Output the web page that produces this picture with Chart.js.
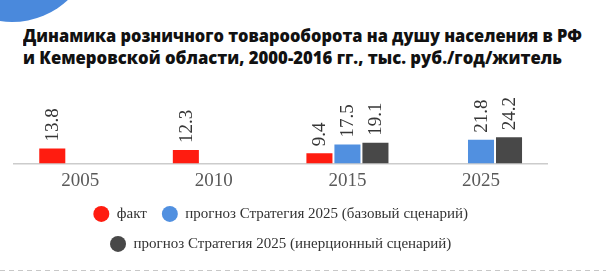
<!DOCTYPE html>
<html>
<head>
<meta charset="utf-8">
<script src="https://cdn.jsdelivr.net/npm/chart.js@4.4.1/dist/chart.umd.min.js"></script>
<style>
  html, body { margin: 0; padding: 0; background: #ffffff; }
  #wrap { position: relative; width: 606px; height: 272px; overflow: hidden; background: #fff; }
  #blob { position: absolute; left: -70px; top: -142px; width: 164px; height: 164px; border-radius: 50%; background: #4a89dc; }
  #title { position: absolute; left: 23px; top: 24px; font-family: "Open Sans", sans-serif; font-weight: 800; font-size: 18px; line-height: 22px; color: #111111; white-space: nowrap; }
  #title span { display: inline-block; transform-origin: 0 0; }
  #dash { position: absolute; left: 0; top: 270px; width: 606px; height: 1px; background: repeating-linear-gradient(to right, #c8c8c8 0 5px, transparent 5px 9px); }
  canvas { position: absolute; left: 0; top: 0; }
</style>
</head>
<body>
<div id="wrap">
  <div id="blob"></div>
  <div id="title"><span id="t1">Динамика розничного товарооборота на душу населения в РФ</span><br><span id="t2">и Кемеровской области, 2000-2016 гг., тыс. руб./год/житель</span></div>
  <canvas id="c" width="606" height="272"></canvas>
  <div id="dash"></div>
</div>
<script>
// ---- data ----
const categories = ['2005', '2010', '2015', '2025'];
const seriesNames = ['факт', 'прогноз Стратегия 2025 (базовый сценарий)', 'прогноз Стратегия 2025 (инерционный сценарий)'];
const factValues = [13.8, 12.3, 9.4, null];
const baseValues = [null, null, 17.5, 21.8];
const inertValues = [null, null, 19.1, 24.2];
const seriesColors = ['#ff1c10', '#5190e0', '#484848'];

// ---- title fit ----
(function () {
  [['t1', 559], ['t2', 539]].forEach(([id, target]) => {
    const el = document.getElementById(id);
    const w = el.getBoundingClientRect().width;
    el.style.transform = 'scaleX(' + (target / w) + ')';
  });
})();

const valueLabels = {
  id: 'valueLabels',
  afterDatasetsDraw(chart) {
    const ctx = chart.ctx;
    ctx.save();
    ctx.font = '19px "Liberation Serif", serif';
    ctx.fillStyle = '#363636';
    ctx.textAlign = 'left';
    ctx.textBaseline = 'middle';
    chart.data.datasets.forEach((ds, di) => {
      const meta = chart.getDatasetMeta(di);
      meta.data.forEach((el, i) => {
        const v = ds.data[i];
        if (v === null || v === undefined) return;
        ctx.save();
        ctx.translate(el.x + 1, el.y - 7);
        ctx.rotate(-Math.PI / 2);
        ctx.fillText(v.toFixed(1), 0, 0);
        ctx.restore();
      });
    });
    ctx.restore();
  }
};

new Chart(document.getElementById('c'), {
  type: 'bar',
  data: {
    labels: categories,
    datasets: [
      { label: seriesNames[0], data: factValues, backgroundColor: seriesColors[0], borderWidth: 0 },
      { label: seriesNames[1], data: baseValues, backgroundColor: seriesColors[1], borderWidth: 0 },
      { label: seriesNames[2], data: inertValues, backgroundColor: seriesColors[2], borderWidth: 0 }
    ]
  },
  options: {
    responsive: false,
    animation: false,
    devicePixelRatio: 1,
    categoryPercentage: 0.629,
    barPercentage: 0.93,
    layout: { padding: { left: 13.5, right: 58.2, top: 120, bottom: 10.6 } },
    scales: {
      x: {
        grid: { display: false, drawTicks: false },
        border: { display: true, color: '#cccccc', width: 1.5 },
        ticks: { color: '#595959', padding: 7, font: { family: '"Liberation Serif", serif', size: 19, lineHeight: 1.1 } },
        afterFit(scale) { scale.height = 27.9; }
      },
      y: { display: false, min: 0, max: 40 }
    },
    plugins: {
      tooltip: { enabled: false },
      legend: {
        position: 'bottom',
        fullSize: false,
        labels: {
          usePointStyle: true,
          pointStyle: 'circle',
          pointStyleWidth: 16,
          boxHeight: 11.3,
          padding: 15,
          color: '#333333',
          font: { family: '"Liberation Serif", serif', size: 15 }
        }
      }
    }
  },
  plugins: [valueLabels]
});
</script>
</body>
</html>
